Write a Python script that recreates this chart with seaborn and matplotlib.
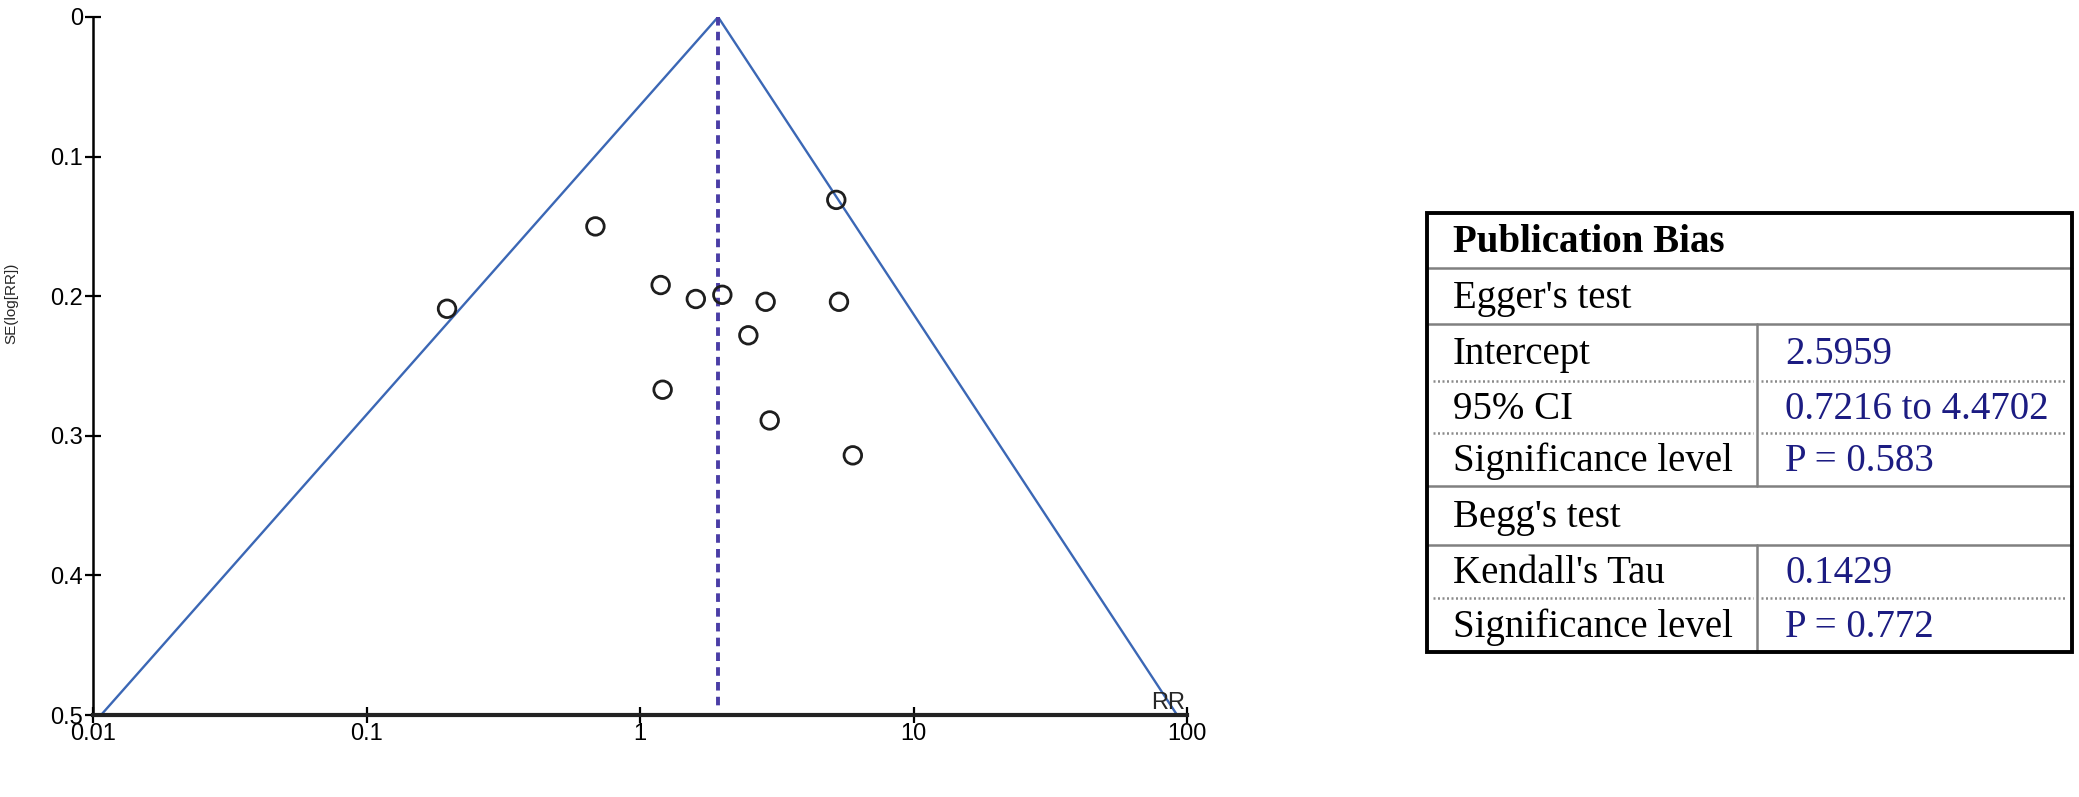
## IMPORTING
import numpy as np
import pandas as pd
import seaborn as sns
import matplotlib.pyplot as plt
from matplotlib.patches import Rectangle


## DATA
rr = [0.197, 0.687, 1.19, 1.60, 2.00, 2.88, 5.22, 5.34, 2.49, 1.21, 2.98, 6.00]
se = [0.209, 0.150, 0.192, 0.202, 0.199, 0.204, 0.131, 0.204, 0.228, 0.267, 0.289, 0.314]
pooled_rr = 1.93
funnel_rr = [0.0107, 1.93, 92.0]
funnel_se = [0.5, 0.0, 0.5]

x_ticks = [0.01, 0.1, 1, 10, 100]
x_ticklabels = ['0.01', '0.1', '1', '10', '100']
y_ticks = [0, 0.1, 0.2, 0.3, 0.4, 0.5]
y_ticklabels = ['0', '0.1', '0.2', '0.3', '0.4', '0.5']

table_labels = ['Publication Bias', "Egger's test", 'Intercept', '95% CI',
                'Significance level', "Begg's test", "Kendall's Tau",
                'Significance level']
table_values = ['', '', '2.5959', '0.7216 to 4.4702', 'P = 0.583', '',
                '0.1429', 'P = 0.772']

df = pd.DataFrame({'RR': rr, 'SE': se})


## SET STYLE
sns.set_style('white')
plt.rcParams['font.family'] = ['Liberation Sans', 'DejaVu Sans']

W, H = 2079, 797
fig = plt.figure(figsize=(W / 100, H / 100), dpi=100)

## FUNNEL PLOT
ax = fig.add_axes([93 / W, 1 - 715 / H, (1187 - 93) / W, (715 - 17) / H])

sns.lineplot(x=funnel_rr, y=funnel_se, ax=ax, color='#3b67b5', lw=1.7,
             estimator=None, sort=False)
ax.plot([pooled_rr, pooled_rr], [0.0, 0.497], color='#4a3da6', lw=2.8,
        ls=(0, (2.2, 1.6)))
sns.scatterplot(data=df, x='RR', y='SE', ax=ax, marker='o', s=160,
                facecolor='none', edgecolor='#1e1e1e', linewidth=2.0,
                zorder=5)

ax.set_xscale('log')
ax.set_xlim(0.01, 100)
ax.set_ylim(0.5, 0)
ax.set_xticks(x_ticks)
ax.set_xticklabels(x_ticklabels)
ax.set_yticks(y_ticks)
ax.set_yticklabels(y_ticklabels)
ax.minorticks_off()
ax.tick_params(axis='both', direction='inout', length=12, width=1.6,
               labelsize=17, colors='black', left=True, bottom=True)
ax.tick_params(axis='x', pad=0)
ax.tick_params(axis='y', pad=1)

for side in ['top', 'right']:
    ax.spines[side].set_visible(False)
ax.spines['left'].set_linewidth(1.8)
ax.spines['left'].set_color('black')
ax.spines['bottom'].set_linewidth(3.0)
ax.spines['bottom'].set_color('#222222')

ax.set_xlabel('')
ax.set_ylabel('SE(log[RR])', fontsize=11)
ax.yaxis.set_label_coords(-0.068, 0.59)
ax.text(85, 0.4955, 'RR', ha='center', va='baseline', fontsize=17)


## TABLE
row_edges = [213, 268, 324, 381, 433, 486, 545, 598, 652]
separators = ['-', '-', ':', ':', '-', '-', ':']
x0, x1, xdiv = 1427, 2072, 1757

tax = fig.add_axes([x0 / W, 1 - 652 / H, (x1 - x0) / W, (652 - 213) / H])
tax.set_xlim(x0, x1)
tax.set_ylim(652, 213)
tax.axis('off')

tax.add_patch(Rectangle((x0, 213), x1 - x0, 652 - 213, fill=False,
                        lw=2.8, edgecolor='black', clip_on=False, zorder=5))
for i, style in enumerate(separators):
    y = row_edges[i + 1]
    if style == '-':
        tax.plot([x0, x1], [y, y], color='#808080', lw=1.8, clip_on=False)
    else:
        tax.plot([x0 + 6, xdiv - 4], [y, y], color='#8a8a8a', lw=1.8,
                 ls=(0, (0.8, 1.0)), clip_on=False)
        tax.plot([xdiv + 4, x1 - 6], [y, y], color='#8a8a8a', lw=1.8,
                 ls=(0, (0.8, 1.0)), clip_on=False)
for a, b in [(2, 5), (6, 8)]:
    tax.plot([xdiv, xdiv], [row_edges[a], row_edges[b]], color='#808080',
             lw=1.8, clip_on=False)

for i, (lab, val) in enumerate(zip(table_labels, table_values)):
    yc = (row_edges[i] + row_edges[i + 1]) / 2 + 2
    tax.text(1453, yc, lab, ha='left', va='center', fontsize=28,
             family='Liberation Serif', color='black',
             fontweight='bold' if i == 0 else 'normal')
    if val:
        tax.text(1785, yc, val, ha='left', va='center', fontsize=28,
                 family='Liberation Serif', color='#1c1c82')

plt.savefig('out.png', dpi=100)
